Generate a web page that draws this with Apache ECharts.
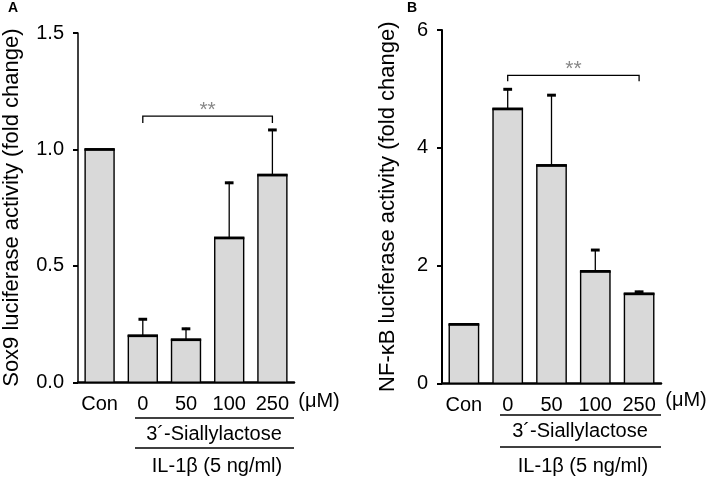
<!DOCTYPE html>
<html><head><meta charset="utf-8">
<script src="https://cdn.jsdelivr.net/npm/echarts@6/dist/echarts.min.js"></script>
<style>html,body{margin:0;padding:0;background:#fff}#c{width:709px;height:482px}</style>
</head><body><div id="c"></div>
<script>
const categories = ['Con', '0', '50', '100', '250'];
const meanA = [1.0, 0.2, 0.183, 0.62, 0.89];
const sdA = [0, 0.075, 0.051, 0.241, 0.198];
const meanB = [1.0, 4.66, 3.70, 1.90, 1.52];
const sdB = [0, 0.35, 1.21, 0.38, 0.05];
const ticksA = [0, 0.5, 1.0, 1.5];
const ticksB = [0, 2, 4, 6];
const sigA = [1, 4, 1.143, 1.113, '**'];
const sigB = [1, 4, 5.23, 5.13, '**'];
const titleA = 'Sox9 luciferase activity (fold change)';
const titleB = 'NF-\u03BAB luciferase activity (fold change)';
const unitLabel = '(\u03BCM)';
const groupLabel1 = '3\u00B4-Siallylactose';
const groupLabel2 = 'IL-1\u03B2 (5 ng/ml)';

const FONT = '"Liberation Sans", Arial, sans-serif';
const chart = echarts.init(document.getElementById('c'), null, {renderer: 'canvas'});

function barItem(params, api) {
  const idx = api.value(0), mean = api.value(1), sd = api.value(2);
  const base = api.coord([idx, 0]);
  const top = api.coord([idx, mean]);
  const bw = api.size([1, 0])[0] * 0.67;
  const x0 = base[0] - bw / 2;
  const children = [
    {type: 'rect', shape: {x: x0, y: top[1], width: bw, height: base[1] - top[1]},
     style: {fill: '#d9d9d9', stroke: '#000', lineWidth: 1.4}},
    {type: 'line', shape: {x1: x0 - 0.7, y1: top[1], x2: x0 + bw + 0.7, y2: top[1]},
     style: {stroke: '#000', lineWidth: 2.8}}
  ];
  if (sd > 0) {
    const et = api.coord([idx, mean + sd]);
    const cw = bw * 0.3;
    children.push({type: 'line', shape: {x1: base[0], y1: top[1], x2: base[0], y2: et[1]},
      style: {stroke: '#000', lineWidth: 1.3}});
    children.push({type: 'line', shape: {x1: base[0] - cw / 2, y1: et[1] + 1, x2: base[0] + cw / 2, y2: et[1] + 1},
      style: {stroke: '#000', lineWidth: 3}});
  }
  return {type: 'group', children};
}

function sigItem(params, api) {
  const a = api.value(0), b = api.value(1), hi = api.value(2), lo = api.value(3);
  const p1 = api.coord([a, lo]), p2 = api.coord([a, hi]), p3 = api.coord([b, hi]), p4 = api.coord([b, lo]);
  return {type: 'group', children: [
    {type: 'polyline', shape: {points: [p1, p2, p3, p4]}, style: {stroke: '#000', lineWidth: 1.3, fill: null}},
    {type: 'text', x: (p2[0] + p3[0]) / 2, y: p2[1] - 6,
     style: {text: params.seriesIndex === 1 ? sigA[4] : sigB[4], font: '21px ' + FONT, fill: '#888',
             align: 'center', verticalAlign: 'middle'}}
  ]};
}

function yAxisCfg(gi, ticks, fmt, title, gap, lw) {
  return {
    type: 'value', gridIndex: gi, min: ticks[0], max: ticks[ticks.length - 1],
    interval: ticks[1] - ticks[0],
    name: title, nameLocation: 'middle', nameGap: gap, nameRotate: 90,
    nameTextStyle: {fontFamily: FONT, fontSize: 22, color: '#000'},
    axisLine: {show: true, lineStyle: {color: '#000', width: lw}},
    axisTick: {show: true, length: 5, lineStyle: {color: '#000', width: 2}},
    axisLabel: {fontFamily: FONT, fontSize: 20, color: '#000', margin: 14, formatter: fmt},
    splitLine: {show: false}
  };
}
function xAxisCfg(gi) {
  return {
    type: 'category', gridIndex: gi, data: categories, boundaryGap: true,
    axisLine: {show: true, lineStyle: {color: '#000', width: 2.5}},
    axisTick: {show: false},
    axisLabel: {fontFamily: FONT, fontSize: 20, color: '#000', margin: 12, interval: 0}
  };
}

const graphics = [];
function txt(x, y, s, size, weight, align) {
  graphics.push({type: 'text', x, y, style: {text: s, font: (weight || 'normal') + ' ' + size + 'px ' + FONT,
    fill: '#000', align: align || 'center', verticalAlign: 'middle'}});
}
function hl(x1, x2, y) {
  graphics.push({type: 'line', shape: {x1, y1: y, x2, y2: y}, style: {stroke: '#000', lineWidth: 1.5}});
}
txt(13, 8, 'A', 14, 'bold');
txt(412, 8, 'B', 14, 'bold');
txt(319, 401, unitLabel, 20);
txt(686, 400, unitLabel, 20);
hl(135, 294, 418);
hl(135, 294, 448);
hl(500, 661, 415);
hl(500, 661, 447);
txt(214, 434, groupLabel1, 20);
txt(217, 466, groupLabel2, 20);
txt(580, 431, groupLabel1, 20);
txt(583, 466, groupLabel2, 20);

chart.setOption({
  animation: false,
  backgroundColor: '#fff',
  grid: [
    {left: 78, top: 33, width: 216, height: 349.3},
    {left: 442, top: 30, width: 219, height: 353.3}
  ],
  xAxis: [xAxisCfg(0), xAxisCfg(1)],
  yAxis: [
    yAxisCfg(0, ticksA, v => v.toFixed(1), titleA, 55, 1.5),
    yAxisCfg(1, ticksB, v => String(v), titleB, 43, 2)
  ],
  series: [
    {type: 'custom', xAxisIndex: 0, yAxisIndex: 0, renderItem: barItem,
     data: categories.map((c, i) => [i, meanA[i], sdA[i]]), clip: false},
    {type: 'custom', xAxisIndex: 0, yAxisIndex: 0, renderItem: sigItem, data: [sigA.slice(0, 4)], clip: false},
    {type: 'custom', xAxisIndex: 1, yAxisIndex: 1, renderItem: barItem,
     data: categories.map((c, i) => [i, meanB[i], sdB[i]]), clip: false},
    {type: 'custom', xAxisIndex: 1, yAxisIndex: 1, renderItem: sigItem, data: [sigB.slice(0, 4)], clip: false}
  ],
  graphic: graphics
});
</script></body></html>
